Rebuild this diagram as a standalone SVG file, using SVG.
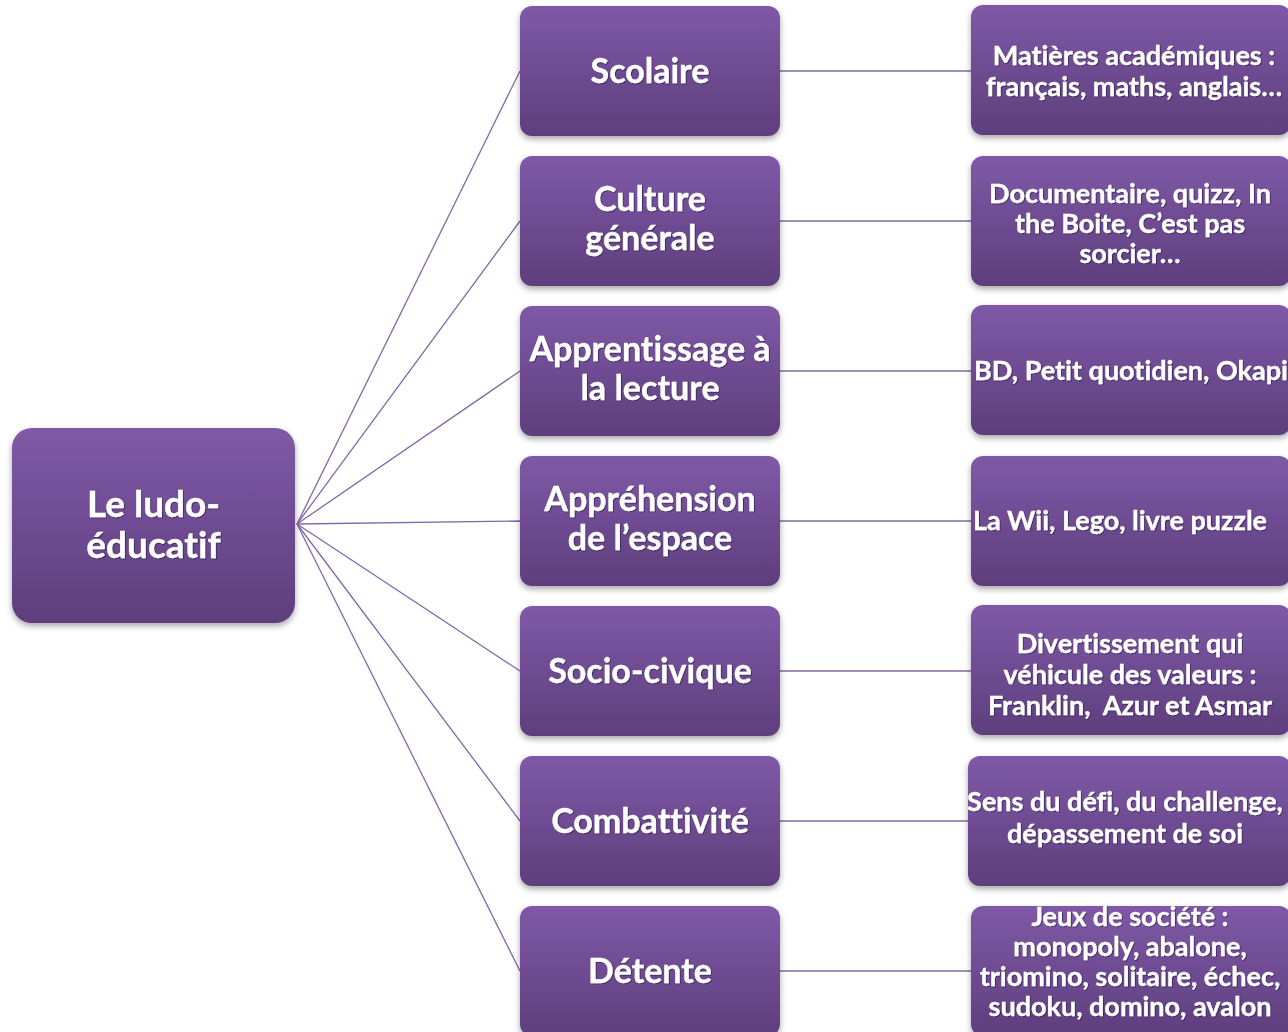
<svg xmlns="http://www.w3.org/2000/svg" width="1288" height="1032" viewBox="0 0 1288 1032">
<style>
.box{fill:url(#g);filter:url(#sh)}
.t{fill:#fff;stroke:#fff;stroke-width:0.3;font-family:Lato,"Liberation Sans",sans-serif;font-weight:bold;text-anchor:middle;font-variant-ligatures:none;font-feature-settings:"liga" 0;filter:url(#ts)}
.t1{font-size:37px}
.t2{font-size:34px}
.t3{font-size:27px}
.c{stroke:#8468a6;stroke-width:1.3;fill:none}
</style>
<defs>
<linearGradient id="g" x1="0" y1="0" x2="0" y2="1">
<stop offset="0" stop-color="#7f59a7"/>
<stop offset="1" stop-color="#5e3e7d"/>
</linearGradient>
<filter id="sh" x="-10%" y="-10%" width="120%" height="130%">
<feDropShadow dx="0" dy="3" stdDeviation="3" flood-color="#000" flood-opacity="0.35"/>
</filter>
<filter id="ts" x="-5%" y="-20%" width="110%" height="140%">
<feDropShadow dx="0.8" dy="0.8" stdDeviation="0.6" flood-color="#1a0f3a" flood-opacity="0.7"/>
</filter>
</defs>
<rect width="1288" height="1032" fill="#fff"/>
<g id="connectors">
<line class="c" x1="297" y1="524" x2="520" y2="71"/>
<line class="c" x1="297" y1="524" x2="520" y2="221"/>
<line class="c" x1="297" y1="524" x2="520" y2="371"/>
<line class="c" x1="297" y1="524" x2="520" y2="521"/>
<line class="c" x1="297" y1="524" x2="520" y2="671"/>
<line class="c" x1="297" y1="524" x2="520" y2="821"/>
<line class="c" x1="297" y1="524" x2="520" y2="971"/>
<line class="c" x1="780" y1="71" x2="971" y2="71"/>
<line class="c" x1="780" y1="221" x2="971" y2="221"/>
<line class="c" x1="780" y1="371" x2="971" y2="371"/>
<line class="c" x1="780" y1="521" x2="971" y2="521"/>
<line class="c" x1="780" y1="671" x2="971" y2="671"/>
<line class="c" x1="780" y1="821" x2="968" y2="821"/>
<line class="c" x1="780" y1="971" x2="971" y2="971"/>
</g>
<g id="root">
<rect class="box" x="12" y="428" width="283" height="195" rx="20"/>
<text class="t t1" x="153.5" y="517">Le ludo-</text>
<text class="t t1" x="153.5" y="558">éducatif</text>
</g>
<g id="scolaire">
<rect class="box" x="520" y="6" width="260" height="130" rx="12"/>
<text class="t t2" x="650" y="83">Scolaire</text>
</g>
<g id="culture">
<rect class="box" x="520" y="156" width="260" height="130" rx="12"/>
<text class="t t2" x="650" y="211">Culture</text>
<text class="t t2" x="650" y="250">générale</text>
</g>
<g id="apprentissage">
<rect class="box" x="520" y="306" width="260" height="130" rx="12"/>
<text class="t t2" x="650" y="361">Apprentissage à</text>
<text class="t t2" x="650" y="400">la lecture</text>
</g>
<g id="apprehension">
<rect class="box" x="520" y="456" width="260" height="130" rx="12"/>
<text class="t t2" x="650" y="511">Appréhension</text>
<text class="t t2" x="650" y="550">de l’espace</text>
</g>
<g id="socio">
<rect class="box" x="520" y="606" width="260" height="130" rx="12"/>
<text class="t t2" x="650" y="683">Socio-civique</text>
</g>
<g id="combattivite">
<rect class="box" x="520" y="756" width="260" height="130" rx="12"/>
<text class="t t2" x="650" y="833">Combattivité</text>
</g>
<g id="detente">
<rect class="box" x="520" y="906" width="260" height="130" rx="12"/>
<text class="t t2" x="650" y="983">Détente</text>
</g>
<g id="r-scolaire">
<rect class="box" x="971" y="5" width="320" height="130" rx="12"/>
<text class="t t3" x="1134" y="65">Matières académiques :</text>
<text class="t t3" x="1134" y="96">français, maths, anglais…</text>
</g>
<g id="r-culture">
<rect class="box" x="971" y="156" width="320" height="130" rx="12"/>
<text class="t t3" x="1130" y="203">Documentaire, quizz, In</text>
<text class="t t3" x="1130" y="233">the Boite, C’est pas</text>
<text class="t t3" x="1130" y="263">sorcier…</text>
</g>
<g id="r-apprentissage">
<rect class="box" x="971" y="305" width="320" height="130" rx="12"/>
<text class="t t3" x="1131" y="380">BD, Petit quotidien, Okapi</text>
</g>
<g id="r-apprehension">
<rect class="box" x="971" y="456" width="320" height="130" rx="12"/>
<text class="t t3" x="1120" y="530">La Wii, Lego, livre puzzle</text>
</g>
<g id="r-socio">
<rect class="box" x="971" y="605" width="320" height="130" rx="12"/>
<text class="t t3" x="1130" y="653">Divertissement qui</text>
<text class="t t3" x="1130" y="684">véhicule des valeurs :</text>
<text class="t t3" x="1130" y="715" xml:space="preserve">Franklin,  Azur et Asmar</text>
</g>
<g id="r-combattivite">
<rect class="box" x="968" y="756" width="323" height="130" rx="12"/>
<text class="t t3" x="1125" y="811">Sens du défi, du challenge,</text>
<text class="t t3" x="1125" y="843">dépassement de soi</text>
</g>
<g id="r-detente">
<rect class="box" x="971" y="906" width="320" height="130" rx="12"/>
<text class="t t3" x="1130" y="926">Jeux de société :</text>
<text class="t t3" x="1130" y="956">monopoly, abalone,</text>
<text class="t t3" x="1130" y="986">triomino, solitaire, échec,</text>
<text class="t t3" x="1130" y="1016">sudoku, domino, avalon</text>
</g>
</svg>
